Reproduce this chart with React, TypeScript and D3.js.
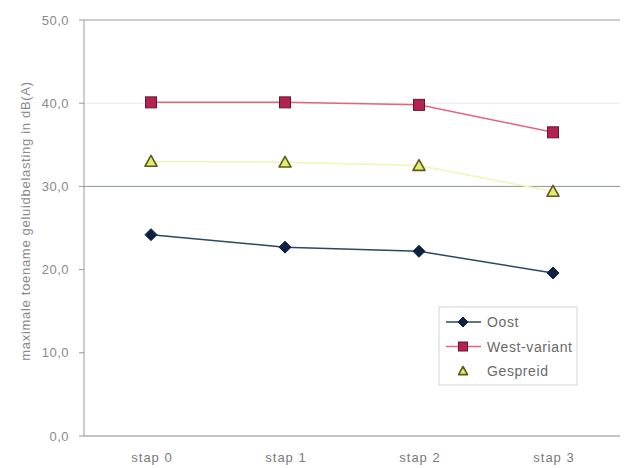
import React from "react";
import * as d3 from "d3";

const categories = ["stap 0", "stap 1", "stap 2", "stap 3"];
const oost = [24.2, 22.7, 22.2, 19.6];
const westVariant = [40.1, 40.1, 39.8, 36.5];
const gespreid = [33.0, 32.9, 32.5, 29.4];
const yTicks = [0, 10, 20, 30, 40, 50];
const seriesNames = ["Oost", "West-variant", "Gespreid"];

const W = 627;
const H = 468;
const left = 84;
const right = 620;
const top = 20;
const bottom = 436;

export default function App() {
  const x = d3.scaleBand<string>().domain(categories).range([left, right]);
  const y = d3.scaleLinear().domain([0, 50]).range([bottom, top]);
  const cx = (c: string) => (x(c) ?? 0) + x.bandwidth() / 2;
  const line = d3
    .line<number>()
    .x((_, i) => cx(categories[i]))
    .y((v) => y(v));
  const fmt = (v: number) => v.toFixed(1).replace(".", ",");
  const font = "Liberation Sans, Arial, sans-serif";

  const diamond = (px: number, py: number, r: number, key?: string) => (
    <path
      key={key}
      d={`M${px},${py - r}L${px + r},${py}L${px},${py + r}L${px - r},${py}Z`}
      fill="#0d2140"
      stroke="#0d2140"
    />
  );
  const square = (px: number, py: number, r: number, key?: string) => (
    <rect key={key} x={px - r} y={py - r} width={2 * r} height={2 * r} fill="#b3234f" stroke="#6a1530" strokeWidth={1} />
  );
  const triangle = (px: number, py: number, r: number, key?: string) => (
    <path
      key={key}
      d={`M${px},${py - r}L${px + r},${py + r * 0.8}L${px - r},${py + r * 0.8}Z`}
      fill="#e4ec6e"
      stroke="#5c5a1c"
      strokeWidth={1.6}
      strokeLinejoin="round"
    />
  );

  return (
    <svg width={W} height={H} style={{ position: "absolute", left: 0, top: 0, background: "#fff" }}>
      {/* frame and grid */}
      <line x1={left} x2={right} y1={top} y2={top} stroke="#9a9a9a" />
      <line x1={left} x2={right} y1={y(40)} y2={y(40)} stroke="#e6eaea" />
      <line x1={left} x2={right} y1={y(30)} y2={y(30)} stroke="#8a9696" />
      <line x1={left} x2={left} y1={top} y2={bottom} stroke="#9a9a9a" />
      <line x1={left} x2={right} y1={bottom} y2={bottom} stroke="#8a8a8a" />
      {yTicks.map((t) => (
        <g key={t}>
          <line x1={left - 5} x2={left} y1={y(t)} y2={y(t)} stroke="#9a9a9a" />
          <text
            x={69}
            y={y(t) + 4.5}
            textAnchor="end"
            fontFamily={font}
            fontSize={13}
            letterSpacing={0.5}
            fill="#8a8a8a"
          >
            {fmt(t)}
          </text>
        </g>
      ))}
      {categories.map((c) => (
        <text
          key={c}
          x={cx(c) + 1}
          y={462}
          textAnchor="middle"
          fontFamily={font}
          fontSize={13}
          letterSpacing={1}
          fill="#7a7a7a"
        >
          {c}
        </text>
      ))}
      <text
        transform={`translate(30,221) rotate(-90)`}
        textAnchor="middle"
        fontFamily={font}
        fontSize={13}
        letterSpacing={0.7}
        fill="#8a8a8a"
      >
        maximale toename geluidbelasting in dB(A)
      </text>

      {/* series */}
      <path d={line(gespreid) ?? ""} fill="none" stroke="#f2f4b8" strokeWidth={1.5} />
      <path d={line(westVariant) ?? ""} fill="none" stroke="#e2647e" strokeWidth={1.5} />
      <path d={line(oost) ?? ""} fill="none" stroke="#2a4860" strokeWidth={1.5} />
      {oost.map((v, i) => diamond(cx(categories[i]), y(v), 6, "o" + i))}
      {westVariant.map((v, i) => square(cx(categories[i]), y(v), 5.5, "w" + i))}
      {gespreid.map((v, i) => triangle(cx(categories[i]), y(v), 6, "g" + i))}

      {/* legend */}
      <rect x={439} y={307} width={138} height={78} fill="#fff" stroke="#d4d4d4" />
      {seriesNames.map((n, i) => {
        const ly = 322 + i * 24.5;
        return (
          <g key={n}>
            {i < 2 && (
              <line x1={446} x2={481} y1={ly} y2={ly} stroke={i === 0 ? "#2a4860" : "#e2647e"} strokeWidth={1.5} />
            )}
            {i === 0 && diamond(463, ly, 5)}
            {i === 1 && square(463, ly, 4.5)}
            {i === 2 && triangle(463, ly, 4.5)}
            <text x={487} y={ly + 5} fontFamily={font} fontSize={14} letterSpacing={0.6} fill="#6a6a6a">
              {n}
            </text>
          </g>
        );
      })}
    </svg>
  );
}
